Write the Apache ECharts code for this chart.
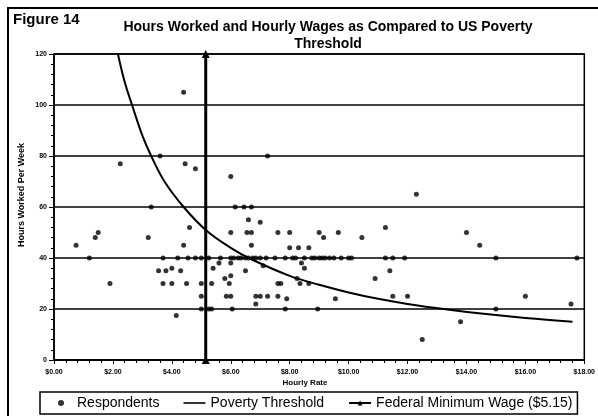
<!DOCTYPE html>
<html><head><meta charset="utf-8">
<script src="https://cdn.jsdelivr.net/npm/echarts@6/dist/echarts.min.js"></script>
<style>html,body{margin:0;padding:0;background:#fff}#c{width:598px;height:416px}</style>
</head><body><div id="c"></div><script>
// ---- data ----
const xTickValues = [0, 2, 4, 6, 8, 10, 12, 14, 16, 18];
const xTickLabels = ['$0.00', '$2.00', '$4.00', '$6.00', '$8.00', '$10.00', '$12.00', '$14.00', '$16.00', '$18.00'];
const yTickValues = [0, 20, 40, 60, 80, 100, 120];

const respondentWage = [
  4.4, 3.6, 2.25, 4.45, 4.8, 6.0,
  3.3, 4.6, 1.5, 1.4, 0.75, 3.2, 4.4, 1.2, 3.7, 4.2, 4.55, 4.8, 5.0, 5.25, 5.6, 5.4,
  3.55, 3.8, 4.0, 4.3, 1.9, 3.7, 4.0, 4.5, 5.0, 5.35, 5.8, 5.0, 5.85, 5.0, 5.25, 5.35, 4.15,
  7.25, 6.15, 6.45, 6.7, 6.6, 7.0, 6.0, 6.55, 6.7, 7.6, 8.0, 9.0, 9.15, 9.65, 10.45,
  6.7, 8.0, 8.3, 8.65,
  5.65, 6.0, 6.1, 6.25, 6.35, 6.5, 6.6, 6.75, 6.85, 7.0, 7.2, 7.5, 7.85, 8.1, 8.2, 8.5,
  8.75, 8.85, 9.0, 9.1, 9.2, 9.35, 9.5, 9.75, 10.0, 10.1,
  6.0, 6.5, 7.1, 8.4, 8.5, 6.0, 8.25, 10.9,
  5.95, 7.6, 7.7, 8.35, 8.65,
  6.0, 6.85, 7.0, 7.25, 7.6, 7.9, 9.55, 6.85,
  6.05, 7.85, 8.95,
  12.3, 11.25, 14.0, 14.45, 11.25, 11.5, 11.9, 15.0, 17.75, 11.4, 11.5, 12.0, 16.0, 17.55, 15.0, 13.8, 12.5
];
const respondentHours = [
  105, 80, 77, 77, 75, 72,
  60, 52, 50, 48, 45, 48, 45, 40, 40, 40, 40, 40, 40, 40, 38, 36,
  35, 35, 36, 35, 30, 30, 30, 30, 30, 30, 32, 25, 25, 20, 20, 20, 17.5,
  80, 60, 60, 60, 55, 54, 50, 50, 50, 50, 50, 50, 48, 50, 48,
  45, 44, 44, 44,
  40, 40, 40, 40, 40, 40, 40, 40, 40, 40, 40, 40, 40, 40, 40, 40,
  40, 40, 40, 40, 40, 40, 40, 40, 40, 40,
  38, 35, 37, 38, 36, 33, 32, 32,
  30, 30, 30, 30, 30,
  25, 25, 25, 25, 25, 24, 24, 22,
  20, 20, 20,
  65, 52, 50, 45, 40, 40, 40, 40, 40, 35, 25, 25, 25, 22, 20, 15, 8
];

const povertyWage  = [2.17, 2.4, 2.65, 3.0, 3.3, 3.75, 4.4, 5.15, 6.0, 6.7, 8.0, 9.0, 10.0, 11.0, 12.0, 13.35, 14.5, 16.0, 17.6];
const povertyHours = [120, 109, 100, 88, 80, 70, 60, 51, 44, 39.5, 33, 29.5, 26.5, 24, 22, 19.8, 18.2, 16.5, 15];

const minWageValue = 5.15;
const minWageHours = [0, 120];

const seriesNames = ['Respondents', 'Poverty Threshold', 'Federal Minimum Wage ($5.15)'];

// ---- build ----
const FONT = '"Liberation Sans", Arial, sans-serif';
const respondents = respondentWage.map((w, i) => [w, respondentHours[i]]);
const poverty = povertyWage.map((w, i) => [w, povertyHours[i]]);
const minWage = minWageHours.map(h => [minWageValue, h]);

const chart = echarts.init(document.getElementById('c'), null, {renderer: 'canvas'});
chart.setOption({
  backgroundColor: '#fff',
  animation: false,
  grid: {left: 54, right: 10, top: 54, bottom: 56, show: true, borderColor: '#000', borderWidth: 1.5, backgroundColor: 'transparent'},
  xAxis: {
    type: 'value', min: 0, max: 18, interval: 2,
    axisLine: {show: true, onZero: false, lineStyle: {color: '#000', width: 1.5}},
    axisTick: {show: true, length: 4, lineStyle: {color: '#000', width: 1}},
    minorTick: {show: true, splitNumber: 5, length: 3, lineStyle: {color: '#000'}},
    splitLine: {show: false},
    axisLabel: {
      margin: 9, color: '#000', fontFamily: FONT, fontSize: 7, fontWeight: 'bold',
      formatter: v => xTickLabels[xTickValues.indexOf(v)]
    }
  },
  yAxis: {
    type: 'value', min: 0, max: 120, interval: 20,
    axisLine: {show: true, lineStyle: {color: '#000', width: 1.5}},
    axisTick: {show: true, length: 5, lineStyle: {color: '#000', width: 1}},
    minorTick: {show: true, splitNumber: 5, length: 3, lineStyle: {color: '#000'}},
    splitLine: {show: true, lineStyle: {color: '#000', width: 1.5}},
    axisLabel: {
      margin: 7, color: '#000', fontFamily: FONT, fontSize: 7, fontWeight: 'bold',
      formatter: v => yTickValues.includes(v) ? String(v) : ''
    }
  },
  legend: {
    left: 40, top: 392,
    padding: [4, 5, 4, 18],
    borderColor: '#000', borderWidth: 1.5,
    itemWidth: 22, itemHeight: 6, itemGap: 24,
    textStyle: {fontFamily: FONT, fontSize: 14, color: '#000'},
    data: [
      {name: seriesNames[0], icon: 'circle'},
      {name: seriesNames[1], icon: 'path://M0,0 L22,0 L22,1.6 L0,1.6 Z'},
      {name: seriesNames[2]}
    ]
  },
  series: [
    {
      name: seriesNames[1], type: 'line', data: poverty, smooth: 0.4,
      showSymbol: false, symbol: 'none',
      lineStyle: {color: '#000', width: 2}, itemStyle: {color: '#000'}, z: 2
    },
    {
      name: seriesNames[2], type: 'line', data: minWage,
      symbol: 'triangle', symbolSize: 8,
      lineStyle: {color: '#000', width: 3}, itemStyle: {color: '#000'}, z: 3
    },
    {
      name: seriesNames[0], type: 'scatter', data: respondents,
      symbol: 'circle', symbolSize: 5, itemStyle: {color: '#000'}, z: 4
    }
  ],
  graphic: [
    {type: 'rect', shape: {x: 8, y: 8, width: 620, height: 440}, style: {fill: 'none', stroke: '#000', lineWidth: 2}, silent: true},
    {type: 'text', left: 13, top: 12, style: {text: 'Figure 14', font: 'bold 15px ' + FONT, fill: '#000'}},
    {type: 'text', x: 328, y: 19, style: {text: 'Hours Worked and Hourly Wages as Compared to US Poverty\nThreshold', font: 'bold 14px ' + FONT, fill: '#000', align: 'center', lineHeight: 17}},
    {type: 'text', x: 22, y: 195, rotation: Math.PI / 2, style: {text: 'Hours Worked Per Week', font: 'bold 9px ' + FONT, fill: '#000', align: 'center', verticalAlign: 'middle'}},
    {type: 'text', x: 305, y: 383, style: {text: 'Hourly Rate', font: 'bold 8px ' + FONT, fill: '#000', align: 'center', verticalAlign: 'middle'}}
  ]
});
</script></body></html>
